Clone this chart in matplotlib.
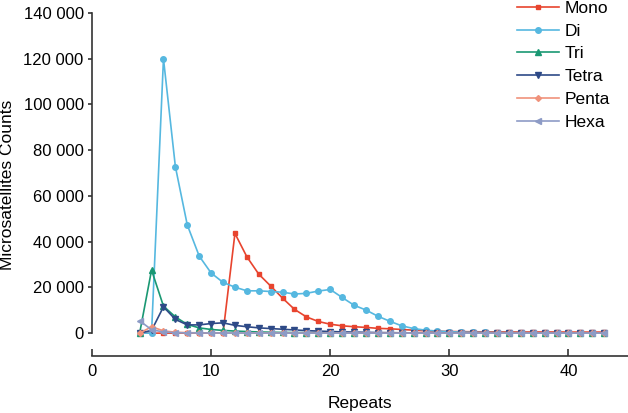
import numpy as np
import matplotlib
matplotlib.use('Agg')
import matplotlib.pyplot as plt
from matplotlib.ticker import FuncFormatter

plt.rcParams['font.family'] = ['Liberation Sans', 'DejaVu Sans']

repeats = list(range(4, 44))

# values, one per repeat 4..43
mono = [0, 0, 0, 0, 0, 0, 0, 0, 43600, 33400, 25800, 20600, 15300, 10400, 7100, 5100,
        3900, 3200, 2800, 2500, 2100, 1900, 1600, 1300, 1000, 850, 700, 650, 600, 550,
        550, 500, 500, 500, 500, 500, 450, 450, 450, 450]
di = [0, 0, 120000, 72800, 47300, 33700, 26300, 22200, 20100, 18500, 18500, 18200,
      17900, 17100, 17400, 18400, 19100, 15600, 12200, 10100, 7400, 5200, 3200, 2000,
      1300, 900, 600, 450, 350, 300, 250, 200, 200, 150, 150, 150, 100, 100, 100, 100]
tri = [0, 27600, 11800, 7100, 3800, 2300, 1600, 1200, 900, 700, 500, 400, 300, 250,
       200, 150, 100, 100, 80, 60, 50, 40, 30, 20, 20, 10, 10, 10, 10, 10,
       0, 0, 0, 0, 0, 0, 0, 0, 0, 0]
tetra = [0, 1200, 11500, 6000, 3600, 3600, 4200, 4500, 3400, 2800, 2300, 2000, 1700,
         1400, 1100, 900, 700, 550, 450, 350, 250, 200, 150, 100, 80, 60, 50, 40, 30, 20,
         20, 10, 10, 10, 10, 0, 0, 0, 0, 0]
penta = [0, 2800, 1000, 400, 200, 150, 100, 80, 60, 50, 40, 30, 20, 20, 10, 10, 10, 10,
         0, 0, 0, 0, 0, 0, 0, 0, 0, 0, 0, 0, 0, 0, 0, 0, 0, 0, 0, 0, 0, 0]
hexa = [5400, 1500, 500, 200, 100, 80, 60, 50, 40, 30, 20, 20, 10, 10, 10, 0, 0, 0,
        0, 0, 0, 0, 0, 0, 0, 0, 0, 0, 0, 0, 0, 0, 0, 0, 0, 0, 0, 0, 0, 0]

series = [
    ('Mono', mono, '#E8442E', 's', 3.5),
    ('Di', di, '#56B8E0', 'o', 4),
    ('Tri', tri, '#1A9873', '^', 4),
    ('Tetra', tetra, '#2E4A87', 'v', 4),
    ('Penta', penta, '#F0927B', 'D', 3),
    ('Hexa', hexa, '#8D9BC6', '<', 4),
]

fig = plt.figure(figsize=(6.28, 4.13), dpi=100)
ax = fig.add_axes([92/628, 1-356/413, 1-92/628, (356-13)/413])

for name, vals, col, mk, ms in series:
    ax.plot(repeats, vals, color=col, marker=mk, markersize=ms, linewidth=1.2,
            label=name, clip_on=False)

ax.set_xlim(0, 45)
ax.set_ylim(-10000, 140000)
ax.set_xticks([0, 10, 20, 30, 40])
ax.set_yticks(np.arange(0, 140001, 20000))
ax.yaxis.set_major_formatter(FuncFormatter(lambda v, p: f'{int(v):,}'.replace(',', ' ')))

for s in ['top', 'right']:
    ax.spines[s].set_visible(False)
for s in ['left', 'bottom']:
    ax.spines[s].set_color('#333333')
    ax.spines[s].set_linewidth(1.2)
ax.spines['left'].set_bounds(0, 140000)

ax.tick_params(axis='x', direction='in', length=5, width=1.2, colors='#333333',
               labelcolor='black', labelsize=12, pad=6)
ax.tick_params(axis='y', direction='out', length=3, width=1.2, colors='#333333',
               labelcolor='black', labelsize=12, pad=3)

ax.set_xlabel('Repeats', fontsize=12.5, labelpad=12)
ax.set_ylabel('Microsatellites Counts', fontsize=12.5)
ax.yaxis.set_label_coords(-0.143, 0.5)

ax.legend(loc='upper left', bbox_to_anchor=(510/628, 1.015), bbox_transform=fig.transFigure,
          frameon=False, fontsize=12.5, handlelength=2.4, labelspacing=0.44,
          handletextpad=0.35, borderaxespad=0)

fig.savefig('out.png', dpi=100)
